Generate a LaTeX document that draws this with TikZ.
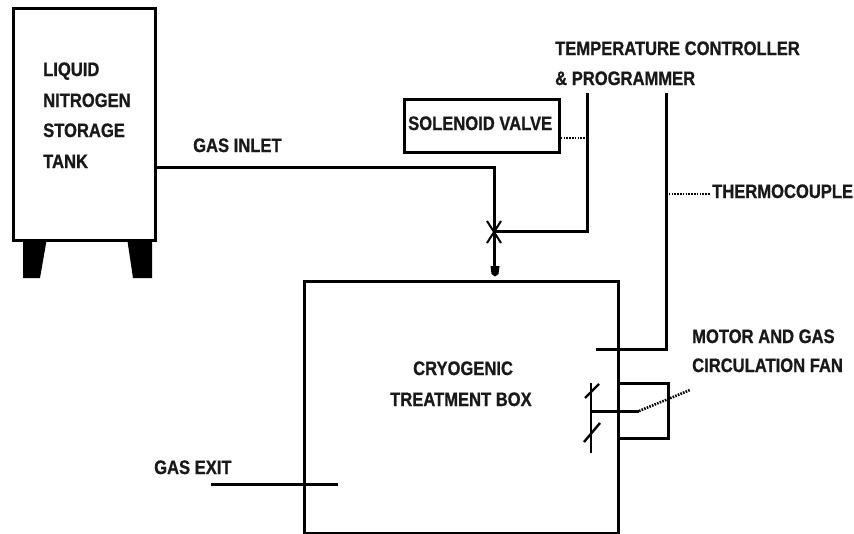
\documentclass[tikz,border=0pt]{standalone}
\usepackage{fontspec}
\newfontfamily\lblfont{Liberation Sans Bold}[FakeStretch=0.85,FakeBold=0.8]
\begin{document}
\begin{tikzpicture}[x=1pt,y=-1pt,
  lbl/.style={anchor=base west,inner sep=0pt,font=\lblfont\fontsize{19.5}{22}\selectfont,text=black!90},
  pipe/.style={line width=3pt,line cap=rect},
  boxline/.style={line width=3.4pt},
  dots/.style={line width=2.6pt,dash pattern=on 1.6pt off 1.2pt},
  ]
\useasboundingbox (0,0) rectangle (854,533);
% storage tank
\fill (23,238) -- (47,238) -- (40,278) -- (23,278) -- cycle;
\fill (127,238) -- (152,238) -- (152,278) -- (133,278) -- cycle;
\node[draw,boxline,fill=white,minimum width=142pt,minimum height=232pt,inner sep=0pt,anchor=north west] (tank) at (12,7) {};
\node[lbl] (t1) at (43,76) {LIQUID};
\node[lbl] (t2) at (43,107) {NITROGEN};
\node[lbl] (t3) at (43,137) {STORAGE};
\node[lbl] (t4) at (43,168) {TANK};
% treatment box
\node[draw,boxline,minimum width=314pt,minimum height=252pt,inner sep=0pt,anchor=north west] (box) at (303,280) {};
\node[lbl] (c1) at (413,375) {CRYOGENIC};
\node[lbl] (c2) at (390,406) {TREATMENT BOX};
% solenoid valve
\node[draw,boxline,minimum width=155pt,minimum height=53pt,inner sep=0pt,anchor=north west] (sv) at (403,98) {};
\node[lbl] (svl) at (408,130) {SOLENOID VALVE};
% labels
\node[lbl] (gi) at (193,152) {GAS INLET};
\node[lbl] (ge) at (154,474) {GAS EXIT};
\node[lbl] (tc1) at (555,55) {TEMPERATURE CONTROLLER};
\node[lbl] (tc2) at (555,85) {\& PROGRAMMER};
\node[lbl] (th) at (712,198) {THERMOCOUPLE};
\node[lbl] (m1) at (692,343) {MOTOR AND GAS};
\node[lbl] (m2) at (692,372) {CIRCULATION FAN};
% coordinates
\coordinate (inA) at (154,167);
\coordinate (inB) at (494,167);
\coordinate (xv) at (494,231);
\coordinate (tip) at (494,267);
\coordinate (cA) at (587,231);
\coordinate (cB) at (587,93);
\coordinate (svd) at (587,138);
\coordinate (svr) at (558,138);
\coordinate (dA) at (666,93);
\coordinate (dB) at (666,349);
\coordinate (dC) at (596,349);
\coordinate (thA) at (666,194);
\coordinate (thB) at (710,194);
\coordinate (geA) at (212,484);
\coordinate (geB) at (336,484);
% gas inlet pipe
\draw[pipe,line cap=butt] (inA) -- (inB) -- (tip);
\fill (490.5,266) -- (499.5,266) -- (498.5,274) -- (495,276.5) -- (491.5,274) -- cycle;
% valve cross
\draw[line width=2pt] (487,221) -- (501,243) (501,221) -- (487,243);
% controller lines
\draw[pipe,line cap=butt] (xv) -- (cA) -- (cB);
\draw[dots] (svr) -- (svd);
\draw[pipe,line cap=butt] (dA) -- (dB) -- (dC);
\draw[dots] (thA) -- (thB);
% gas exit
\draw[pipe] (geA) -- (geB);
% fan / motor
\coordinate (fA) at (617,383);
\coordinate (fB) at (668,383);
\coordinate (fC) at (668,438);
\coordinate (fD) at (617,438);
\draw[line width=3pt] (fA) -- (fB) -- (fC) -- (fD);
\coordinate (sh1) at (591,411);
\coordinate (sh2) at (639,411);
\coordinate (sh3) at (690,390);
\draw[line width=3pt] (sh1) -- (sh2);
\draw[dots] (sh2) -- (sh3);
\coordinate (fv1) at (591,383);
\coordinate (fv2) at (591,453);
\draw[line width=2.6pt] (fv1) -- (fv2);
\draw[line width=2.4pt] (585,398) -- (599,384);
\draw[line width=2.4pt] (584,442) -- (600,423);
\end{tikzpicture}
\end{document}
